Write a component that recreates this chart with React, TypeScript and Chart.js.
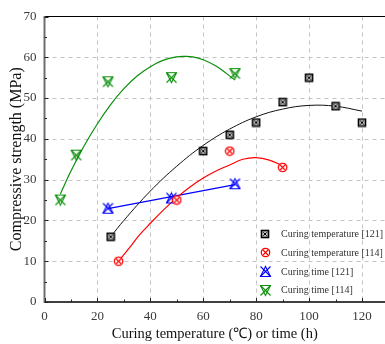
import React, { useEffect, useRef } from 'react';
import { Chart, registerables } from 'chart.js';
Chart.register(...registerables);

// ---- data ----
const tempX121 = [25, 60, 70, 80, 90, 100, 110, 120];
const tempY121 = [16, 37, 41, 44, 49, 55, 48, 44];
const tempX114 = [28, 50, 70, 90];
const tempY114 = [10, 25, 37, 33];
const timeX121 = [24, 48, 72];
const timeY121 = [23, 25.5, 29];
const timeX114 = [6, 12, 24, 48, 72];
const timeY114 = [25, 36, 54, 55, 56];

// fitted curves
const fitTemp121X = [25, 30, 40, 50, 60, 70, 80, 90, 100, 110, 120];
const fitTemp121Y = [16, 20, 27.2, 33.3, 38.4, 42.4, 45.4, 47.3, 48.2, 48, 46.8];
const fitTemp114X = [28, 32, 36, 40, 45, 50, 55, 60, 65, 70, 75, 80, 85, 90];
const fitTemp114Y = [10, 13.2, 16.5, 19.3, 22.6, 25.6, 28.2, 30.4, 32.2, 33.6, 35.0, 35.4, 34.8, 33.4];
const fitTime121X = [24, 72];
const fitTime121Y = [22.9, 28.8];
const fitTime114X = [6, 10, 15, 20, 25, 30, 35, 40, 45, 50, 53, 56, 60, 65, 72];
const fitTime114Y = [26.5, 32.1, 38.3, 43.7, 48.4, 52.3, 55.4, 57.7, 59.3, 60.1, 60.2, 60.1, 59.4, 57.8, 54.4];

const legendLabels = ['Curing temperature [121]', 'Curing temperature [114]', 'Curing time [121]', 'Curing time [114]'];
const xTicks = [0, 20, 40, 60, 80, 100, 120];
const xMinorTicks = [10, 30, 50, 70, 90, 110];
const yTicks = [0, 10, 20, 30, 40, 50, 60, 70];
const yMinorTicks = [5, 15, 25, 35, 45, 55, 65];
const xTitle = 'Curing temperature (\u2103) or time (h)';
const yTitle = 'Compressive strength (MPa)';

const BLACK = '#000000';
const RED = '#ff0000';
const BLUE = '#0000ff';
const GREEN = '#0a8f0a';
const FONT = "'Liberation Serif', 'Times New Roman', Times, serif";

function makeMarker(size: number, draw: (ctx: CanvasRenderingContext2D, s: number) => void) {
  const c = document.createElement('canvas');
  c.width = size;
  c.height = size;
  const ctx = c.getContext('2d')!;
  draw(ctx, size);
  return c;
}

function line(ctx: CanvasRenderingContext2D, x1: number, y1: number, x2: number, y2: number) {
  ctx.beginPath();
  ctx.moveTo(x1, y1);
  ctx.lineTo(x2, y2);
  ctx.stroke();
}

const pts = (xs: number[], ys: number[]) => xs.map((x, i) => ({ x, y: ys[i] }));

export default function App() {
  const ref = useRef<HTMLCanvasElement>(null);
  useEffect(() => {
    const squareX = makeMarker(10, (ctx) => {
      ctx.fillStyle = '#c4c4c4';
      ctx.fillRect(1.5, 1.5, 7, 7);
      ctx.strokeStyle = BLACK;
      ctx.lineWidth = 1.6;
      ctx.strokeRect(1.5, 1.5, 7, 7);
      ctx.lineWidth = 1;
      line(ctx, 3.3, 3.3, 6.7, 6.7);
      line(ctx, 6.7, 3.3, 3.3, 6.7);
    });
    const circleX = makeMarker(11, (ctx) => {
      ctx.fillStyle = '#ffffff';
      ctx.strokeStyle = RED;
      ctx.lineWidth = 1.3;
      ctx.beginPath();
      ctx.arc(5.5, 5.5, 4.2, 0, Math.PI * 2);
      ctx.fill();
      ctx.stroke();
      ctx.lineWidth = 1.1;
      line(ctx, 3.0, 3.0, 8.0, 8.0);
      line(ctx, 8.0, 3.0, 3.0, 8.0);
    });
    const triUpX = makeMarker(13, (ctx) => {
      ctx.strokeStyle = BLUE;
      ctx.lineWidth = 1.1;
      line(ctx, 1.5, 1.5, 11.5, 11.5);
      line(ctx, 11.5, 1.5, 1.5, 11.5);
      ctx.beginPath();
      ctx.moveTo(1.5, 11.5);
      ctx.lineTo(11.5, 11.5);
      ctx.lineTo(6.5, 1.5);
      ctx.closePath();
      ctx.stroke();
    });
    const triDownX = makeMarker(13, (ctx) => {
      ctx.strokeStyle = GREEN;
      ctx.lineWidth = 1.1;
      line(ctx, 1.5, 1.5, 11.5, 11.5);
      line(ctx, 11.5, 1.5, 1.5, 11.5);
      ctx.beginPath();
      ctx.moveTo(1.5, 1.5);
      ctx.lineTo(11.5, 1.5);
      ctx.lineTo(6.5, 11.5);
      ctx.closePath();
      ctx.stroke();
    });
    const markers = [squareX, circleX, triUpX, triDownX];

    const scatter = (data: any, style: any) => ({
      type: 'scatter',
      data,
      showLine: false,
      pointStyle: style,
      pointRadius: 5,
      pointHoverRadius: 5,
      clip: false,
    });
    const curve = (data: any, color: string, w: number) => ({
      type: 'line',
      data,
      borderColor: color,
      borderWidth: w,
      pointRadius: 0,
      pointHoverRadius: 0,
      fill: false,
      tension: 0.4,
    });

    const framePlugin = {
      id: 'frame',
      beforeDatasetsDraw(chart: any) {
        const { ctx, chartArea: a, scales } = chart;
        const xs = scales.x, ys = scales.y;
        ctx.save();
        ctx.strokeStyle = '#c4c4c4';
        ctx.lineWidth = 1;
        ctx.setLineDash([4, 4]);
        xTicks.slice(1).forEach((v) => {
          const px = Math.round(xs.getPixelForValue(v)) + 0.5;
          line(ctx, px, a.top, px, a.bottom);
        });
        yTicks.slice(1, -1).forEach((v) => {
          const py = Math.round(ys.getPixelForValue(v)) + 0.5;
          line(ctx, a.left, py, a.right, py);
        });
        ctx.restore();
      },
      afterDatasetsDraw(chart: any) {
        const { ctx, chartArea: a, scales } = chart;
        const xs = scales.x, ys = scales.y;
        ctx.save();
        ctx.strokeStyle = '#000';
        ctx.lineWidth = 1.2;
        line(ctx, a.left, a.top, a.right, a.top);
        ctx.lineWidth = 1.6;
        line(ctx, a.left, a.bottom, a.right, a.bottom);
        ctx.strokeStyle = '#6e6e6e';
        ctx.lineWidth = 2;
        line(ctx, a.left, a.top - 0.6, a.left, a.bottom + 0.8);
        ctx.strokeStyle = '#222';
        ctx.lineWidth = 1;
        xTicks.forEach((v) => {
          const px = Math.round(xs.getPixelForValue(v)) + 0.5;
          line(ctx, px, a.bottom, px, a.bottom - 4);
        });
        xMinorTicks.forEach((v) => {
          const px = Math.round(xs.getPixelForValue(v)) + 0.5;
          line(ctx, px, a.bottom, px, a.bottom - 2.5);
        });
        yTicks.forEach((v) => {
          const py = Math.round(ys.getPixelForValue(v)) + 0.5;
          line(ctx, a.left, py, a.left + 4, py);
        });
        yMinorTicks.forEach((v) => {
          const py = Math.round(ys.getPixelForValue(v)) + 0.5;
          line(ctx, a.left, py, a.left + 2.5, py);
        });
        ctx.restore();
      },
      afterDraw(chart: any) {
        const { ctx, chartArea: a } = chart;
        ctx.save();
        ctx.font = `10px ${FONT}`;
        ctx.fillStyle = '#333';
        ctx.textBaseline = 'middle';
        ctx.textAlign = 'left';
        const mx = a.left + 220.5;
        const tx = a.left + 236.5;
        const rowY = [a.bottom - 68, a.bottom - 49.5, a.bottom - 30.5, a.bottom - 12];
        legendLabels.forEach((lab, i) => {
          const m = markers[i];
          ctx.drawImage(m, Math.round(mx - m.width / 2), Math.round(rowY[i] - m.height / 2));
          ctx.fillText(lab, tx, rowY[i] + 0.5);
        });
        ctx.restore();
      },
    };

    const chart = new Chart(ref.current!, {
      type: 'scatter',
      data: {
        datasets: [
          scatter(pts(tempX121, tempY121), squareX),
          scatter(pts(tempX114, tempY114), circleX),
          scatter(pts(timeX121, timeY121), triUpX),
          scatter(pts(timeX114, timeY114), triDownX),
          curve(pts(fitTemp121X, fitTemp121Y), '#111', 1),
          curve(pts(fitTemp114X, fitTemp114Y), RED, 1.2),
          curve(pts(fitTime121X, fitTime121Y), BLUE, 1.2),
          curve(pts(fitTime114X, fitTime114Y), GREEN, 1.2),
        ] as any,
      },
      options: {
        responsive: false,
        animation: false,
        events: [],
        layout: { autoPadding: false, padding: { top: 16.5, right: 0, left: 0, bottom: 0 } },
        plugins: { legend: { display: false }, tooltip: { enabled: false } },
        scales: {
          x: {
            type: 'linear',
            min: 0,
            max: 128.7,
            afterBuildTicks: (s: any) => {
              s.ticks = xTicks.map((v) => ({ value: v }));
            },
            afterFit: (s: any) => {
              s.height = 42;
              s.paddingLeft = 0;
              s.paddingRight = 0;
            },
            grid: { display: false, drawTicks: false },
            border: { display: false },
            ticks: {
              padding: 7,
              color: '#3a3a3a',
              font: { family: FONT, size: 13 },
              maxRotation: 0,
              autoSkip: false,
            },
            title: {
              display: true,
              text: xTitle,
              color: '#111',
              font: { family: FONT, size: 14.5 },
              padding: { top: 0, bottom: 1 },
            },
          },
          y: {
            type: 'linear',
            min: 0,
            max: 70,
            afterBuildTicks: (s: any) => {
              s.ticks = yTicks.map((v) => ({ value: v }));
            },
            afterFit: (s: any) => {
              s.width = 44.5;
              s.paddingTop = 0;
              s.paddingBottom = 0;
            },
            grid: { display: false, drawTicks: false },
            border: { display: false },
            ticks: {
              padding: 8,
              color: '#3a3a3a',
              font: { family: FONT, size: 13 },
              autoSkip: false,
            },
            title: {
              display: true,
              text: yTitle,
              color: '#111',
              font: { family: FONT, size: 16 },
              padding: { top: 7.5, bottom: 0 },
            },
          },
        },
      },
      plugins: [framePlugin],
    } as any);
    return () => chart.destroy();
  }, []);

  return (
    <div style={{ position: 'absolute', left: 0, top: 0, width: 385, height: 344, background: '#fff' }}>
      <canvas ref={ref} width={385} height={344} style={{ display: 'block' }} />
    </div>
  );
}
